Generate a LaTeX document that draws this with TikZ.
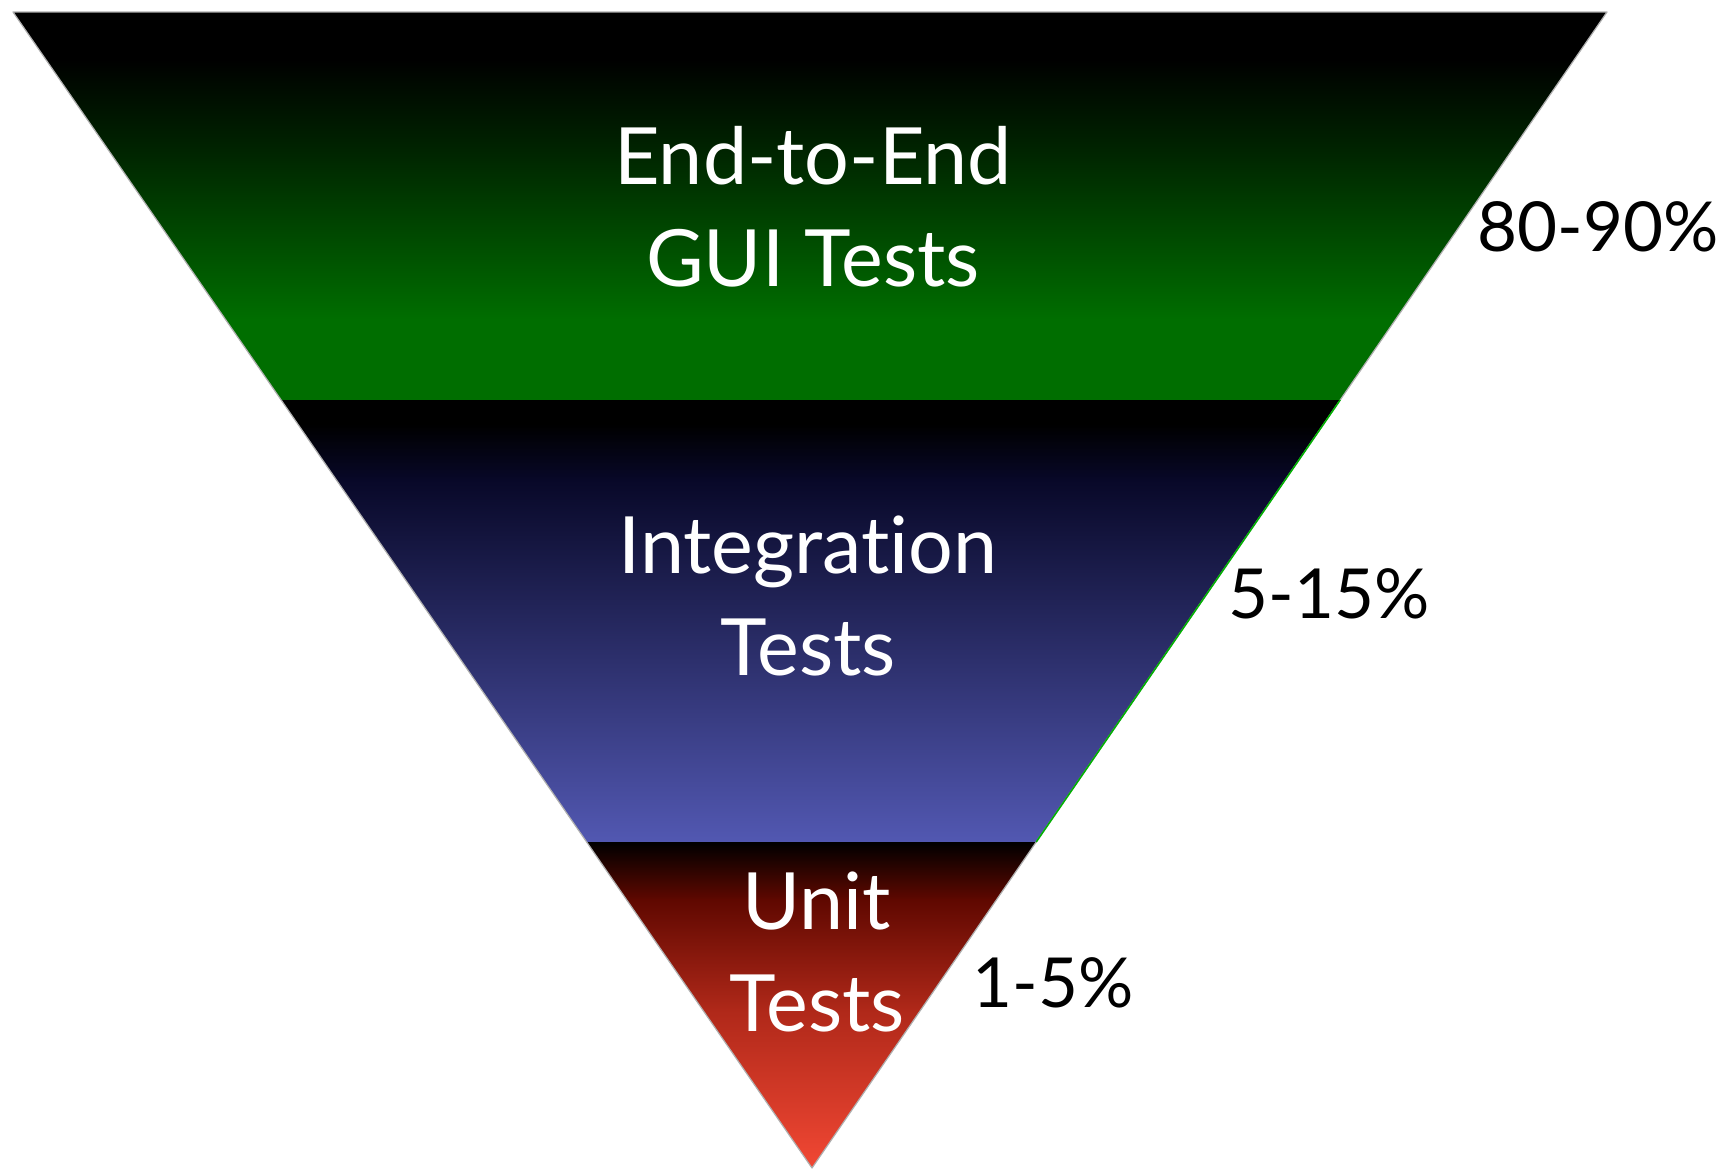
\documentclass[tikz,border=0pt]{standalone}
\usepackage{fontspec}
\setmainfont{Lato}[Ligatures=NoCommon]
\usetikzlibrary{calc}
\definecolor{greenband}{RGB}{0,110,0}
\definecolor{greendark}{RGB}{0,40,0}
\definecolor{blueband}{RGB}{82,88,178}
\definecolor{bluedark}{RGB}{8,8,40}
\definecolor{redband}{RGB}{242,72,52}
\definecolor{redA}{RGB}{95,8,0}
\definecolor{redB}{RGB}{175,40,25}
\definecolor{edgegray}{RGB}{175,175,175}
\begin{document}
\begin{tikzpicture}[x=1pt,y=-1pt,
  intext/.style={text=white, font=\fontsize{79}{102}\selectfont, align=center, inner sep=0pt},
  pct/.style={text=black, font=\fontsize{69}{84}\selectfont, inner sep=0pt}]
\useasboundingbox[fill=white] (0,0) rectangle (1736,1172);
\coordinate (TL) at (13,12);
\coordinate (TR) at (1607,12);
\coordinate (B) at (812,1168);
\coordinate (L1) at ($(TL)!0.3356!(B)$);
\coordinate (R1) at ($(TR)!0.3356!(B)$);
\coordinate (L2) at ($(TL)!0.718!(B)$);
\coordinate (R2) at ($(TR)!0.718!(B)$);
% green band
\begin{scope}
\clip (TL) -- (TR) -- (R1) -- (L1) -- cycle;
\fill[black] (0,12) rectangle (1736,60);
\shade[top color=black, bottom color=greendark] (0,59) rectangle (1736,160);
\shade[top color=greendark, bottom color=greenband] (0,159) rectangle (1736,320);
\fill[greenband] (0,319) rectangle (1736,402);
\end{scope}
% blue band
\begin{scope}
\clip (L1) -- (R1) -- (R2) -- (L2) -- cycle;
\fill[black] (0,400) rectangle (1736,425);
\shade[top color=black, bottom color=bluedark] (0,424) rectangle (1736,480);
\shade[top color=bluedark, bottom color=blueband] (0,479) rectangle (1736,843);
\end{scope}
% red band
\begin{scope}
\clip (L2) -- (R2) -- (B) -- cycle;
\shade[top color=black, bottom color=redA] (0,842) rectangle (1736,900);
\shade[top color=redA, bottom color=redB] (0,899) rectangle (1736,1010);
\shade[top color=redB, bottom color=redband] (0,1009) rectangle (1736,1170);
\end{scope}
\draw[edgegray, line width=1.2pt, line join=round] (TL) -- (TR) -- (B) -- cycle;
\draw[green!70!black, line width=1.5pt] (R1) -- (R2);
% texts
\node[intext] (e2e) at (813,207) {End-to-End\\GUI Tests};
\node[intext] (integ) at (808,596) {Integration\\Tests};
\node[intext] (unit) at (817,952) {Unit\\Tests};
\node[pct] (p1) at (1598,227) {80-90\%};
\node[pct] (p2) at (1329,594) {5-15\%};
\node[pct] (p3) at (1053,983) {1-5\%};
\end{tikzpicture}
\end{document}
